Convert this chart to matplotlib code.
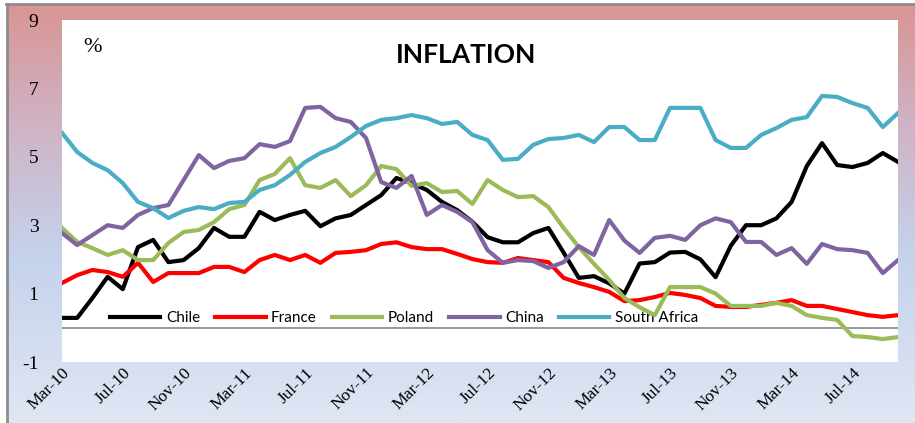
"""
Inflation comparison chart: Chile, France, Poland, China, South Africa (Mar-10 to Oct-14).
"""
import numpy as np
import pandas as pd
import matplotlib
matplotlib.use("Agg")
import matplotlib.pyplot as plt
from matplotlib.colors import LinearSegmentedColormap
from matplotlib.lines import Line2D

plt.rcParams["axes.unicode_minus"] = False

# monthly categories
months = pd.date_range("2010-03-01", periods=56, freq="MS")
month_labels = [d.strftime("%b-%y") for d in months]

# inflation, %
chile = [0.29, 0.29, 0.87, 1.49, 1.13, 2.36, 2.57, 1.92, 1.98, 2.33,
         2.92, 2.66, 2.66, 3.39, 3.15, 3.30, 3.42, 2.97, 3.20, 3.30,
         3.59, 3.88, 4.38, 4.23, 4.03, 3.68, 3.44, 3.10, 2.65, 2.50,
         2.50, 2.77, 2.92, 2.20, 1.46, 1.51, 1.30, 1.00, 1.88, 1.92,
         2.20, 2.22, 2.00, 1.48, 2.40, 3.00, 3.00, 3.20, 3.68, 4.73,
         5.40, 4.76, 4.70, 4.82, 5.11, 4.85]
france = [1.31, 1.54, 1.69, 1.63, 1.49, 1.90, 1.34, 1.60, 1.60, 1.60,
          1.78, 1.78, 1.63, 1.98, 2.13, 1.98, 2.13, 1.90, 2.19, 2.22,
          2.27, 2.45, 2.50, 2.36, 2.30, 2.30, 2.16, 2.01, 1.92, 1.90,
          2.04, 1.98, 1.92, 1.46, 1.31, 1.19, 1.05, 0.78, 0.81, 0.90,
          1.02, 0.96, 0.87, 0.64, 0.61, 0.61, 0.67, 0.73, 0.81, 0.64,
          0.64, 0.55, 0.46, 0.37, 0.32, 0.37]
poland = [2.92, 2.51, 2.33, 2.13, 2.27, 1.98, 1.98, 2.48, 2.80, 2.86,
          3.09, 3.47, 3.59, 4.32, 4.50, 4.96, 4.17, 4.09, 4.32, 3.85,
          4.17, 4.73, 4.64, 4.15, 4.23, 3.97, 4.00, 3.62, 4.32, 4.03,
          3.82, 3.85, 3.53, 2.92, 2.36, 1.87, 1.40, 0.87, 0.60, 0.37,
          1.19, 1.19, 1.19, 1.00, 0.64, 0.64, 0.64, 0.73, 0.64, 0.37,
          0.29, 0.23, -0.24, -0.27, -0.33, -0.27]
china = [2.77, 2.42, 2.71, 3.00, 2.92, 3.30, 3.50, 3.59, 4.32, 5.05,
         4.67, 4.88, 4.96, 5.37, 5.29, 5.46, 6.43, 6.46, 6.13, 6.02,
         5.55, 4.26, 4.09, 4.44, 3.30, 3.59, 3.39, 3.09, 2.27, 1.90,
         1.98, 1.95, 1.75, 1.92, 2.39, 2.13, 3.15, 2.55, 2.19, 2.63,
         2.69, 2.57, 3.00, 3.20, 3.09, 2.51, 2.51, 2.13, 2.33, 1.87,
         2.45, 2.30, 2.27, 2.19, 1.60, 1.98]
south_africa = [5.70, 5.14, 4.82, 4.61, 4.23, 3.68, 3.50, 3.21, 3.42, 3.53,
                3.47, 3.65, 3.68, 4.03, 4.17, 4.47, 4.85, 5.11, 5.29, 5.58,
                5.90, 6.08, 6.13, 6.22, 6.13, 5.96, 6.02, 5.64, 5.49, 4.91,
                4.94, 5.35, 5.52, 5.55, 5.64, 5.43, 5.87, 5.87, 5.49, 5.49,
                6.43, 6.43, 6.43, 5.49, 5.26, 5.26, 5.64, 5.84, 6.08, 6.16,
                6.78, 6.75, 6.57, 6.43, 5.87, 6.28]

series_names = ["Chile", "France", "Poland", "China", "South Africa"]
series_values = [chile, france, poland, china, south_africa]
series_colors = ["#000000", "#FF0000", "#9BBB59", "#8064A2", "#4BACC6"]

y_ticks = [-1, 1, 3, 5, 7, 9]

serif = ["Liberation Serif", "DejaVu Serif"]
sans = ["Lato", "DejaVu Sans"]

W, H = 915, 423
fig = plt.figure(figsize=(W / 100, H / 100), dpi=100)

# gradient background with grey frame on top and left
bg = fig.add_axes([7 / W, 0, 1 - 7 / W, 418 / H])
grad = np.linspace(0, 1, 256).reshape(-1, 1)
cmap = LinearSegmentedColormap.from_list(
    "bg", [(0.0, "#d99594"), (0.3, "#cfb4c6"), (0.6, "#c5d2ec"), (1.0, "#e0e6f3")])
bg.imshow(grad, aspect="auto", cmap=cmap, extent=[0, 1, 0, 1], origin="upper")
bg.axis("off")
fig.add_artist(Line2D([6 / W, 1], [418.5 / H] * 2, color="#8c8c8c", lw=2))
fig.add_artist(Line2D([6.5 / W] * 2, [0, 419 / H], color="#8c8c8c", lw=2))

# plot area
ax = fig.add_axes([62 / W, 61 / H, 836 / W, 342 / H])
ax.set_facecolor("white")
x = np.arange(len(months))
ax.set_xlim(0, len(months) - 1)
ax.set_ylim(-1, 9)
for s in ax.spines.values():
    s.set_visible(False)

ax.axhline(0, color="#868686", lw=1.2, zorder=1)
for name, vals, col in zip(series_names, series_values, series_colors):
    ax.plot(x, vals, color=col, lw=3, label=name, zorder=3,
            solid_joinstyle="round")

ax.set_yticks(y_ticks)
ax.set_yticklabels([str(t) for t in y_ticks], fontfamily=serif, fontsize=14)
ax.tick_params(axis="y", length=0, pad=17)

tick_idx = list(range(0, len(months), 4))
ax.set_xticks(tick_idx)
ax.set_xticklabels([month_labels[i] for i in tick_idx], rotation=45,
                   ha="right", va="top", rotation_mode="anchor",
                   fontfamily=serif, fontsize=12.5)
ax.tick_params(axis="x", length=0, pad=2)

ax.text(0.483, 0.874, "INFLATION", transform=ax.transAxes, ha="center",
        va="baseline", fontsize=19, fontweight="bold", fontfamily=sans)
ax.text(0.025, 0.906, "%", transform=ax.transAxes, ha="left",
        va="baseline", fontsize=16, fontfamily=serif)

leg = ax.legend(ncol=5, loc="center left", bbox_to_anchor=(0.0574, 0.129),
                frameon=False, borderpad=0, borderaxespad=0,
                handlelength=3.3, handletextpad=0.35, columnspacing=1.0,
                prop={"family": sans, "size": 11})
leg.set_zorder(2)

fig.savefig("out.png", dpi=100)
